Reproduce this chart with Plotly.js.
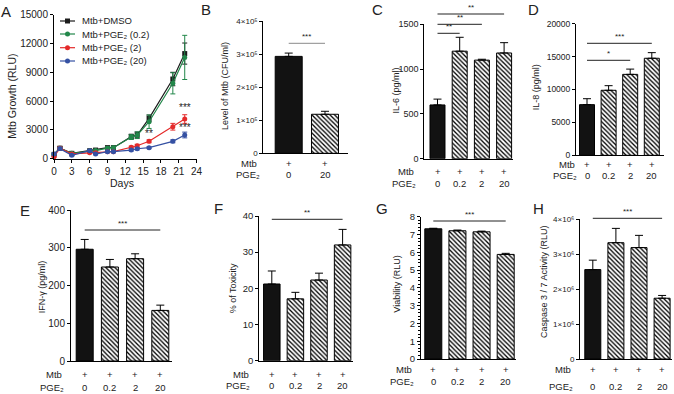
<!DOCTYPE html>
<html><head><meta charset="utf-8">
<script src="https://cdn.plot.ly/plotly-3.0.1.min.js"></script>
<style>html,body{margin:0;padding:0;background:#fff;}#chart{width:674px;height:394px;}</style>
</head><body><div id="chart"></div>
<script>
// ---------- Panel A data ----------
const days = [0,1,3,6,7,9,10,13,14,16,20,22];
const seriesNames = ['Mtb+DMSO','Mtb+PGE₂ (0.2)','Mtb+PGE₂ (2)','Mtb+PGE₂ (20)'];
const dmso     = [450,1100,560,830,900,1150,1150,2300,2470,4200,8300,10950];
const dmsoErr  = [100,150,100,100,100,150,150,250,300,350,700,1100];
const pge02    = [450,1100,560,800,850,1100,1150,2250,2450,3850,7850,10550];
const pge02Err = [100,150,100,100,100,150,150,250,350,700,1100,2300];
const pge2     = [210,1100,500,625,620,730,730,1190,1350,1810,3330,4130];
const pge2Err  = [80,120,80,80,80,80,80,120,150,150,350,450];
const pge20    = [490,1050,350,830,490,730,730,900,1040,1150,1810,2470];
const pge20Err = [80,120,80,80,80,80,80,100,120,100,150,300];
const daysTicks = [0,3,6,9,12,15,18,21,24];
const growthTicks = [0,3000,6000,9000,12000,15000];
const growthTickText = ['0','3000','6000','9000','12000','15000'];
const starsA = [[16,2650,'**'],[22,5300,'***'],[22,3300,'***']];

// ---------- Bar panel data ----------
const pgeB = ['0','20'];
const pgeDoses = ['0','0.2','2','20'];
const cfuB = [293000,118000];        const cfuBErr = [10000,9000];
const il6 = [600,1200,1100,1180];    const il6Err = [65,155,10,115];
const il8 = [7700,9880,12300,14750]; const il8Err = [900,700,800,850];
const ifng = [296,249,271,134];      const ifngErr = [26,20,13,14];
const toxicity = [21.2,17.1,22.3,32.0];  const toxicityErr = [3.6,1.8,1.9,4.3];
const viability = [7.32,7.21,7.15,5.88]; const viabilityErr = [0.03,0.04,0.04,0.06];
const caspase = [2560000,3330000,3190000,1740000]; const caspaseErr = [270000,410000,350000,80000];
const ticksB = [0,100000,200000,300000,400000];
const tickTextB = ['0','1×10⁵','2×10⁵','3×10⁵','4×10⁵'];
const ticksC = [0,500,1000,1500];
const ticksD = [0,5000,10000,15000,20000];
const tickTextD = ['0','5000','10000','15000','20000'];
const ticksE = [0,100,200,300,400];
const ticksF = [0,10,20,30,40];
const ticksG = [0,1,2,3,4,5,6,7,8];
const ticksH = [0,1000000,2000000,3000000,4000000];
const tickTextH = ['0','1×10⁶','2×10⁶','3×10⁶','4×10⁶'];

// ---------- helpers ----------
const W = 674, H = 394;
const fx = p => p / W, fy = p => 1 - p / H;
const FONT = 'Liberation Sans, Arial, sans-serif';
const data = [];
const layout = {
  width: W, height: H, margin: {l:0, r:0, t:0, b:0, pad:0},
  paper_bgcolor: '#fff', plot_bgcolor: 'rgba(0,0,0,0)', showlegend: false, barmode: 'overlay',
  font: {family: FONT, size: 9, color: '#222'},
  annotations: [], shapes: []
};
const ann = o => layout.annotations.push(Object.assign({showarrow:false, xanchor:'center', yanchor:'middle', borderpad:0}, o));
const axBase = extra => Object.assign({showline:true, linecolor:'#000', linewidth:1, ticks:'outside', ticklen:3, tickwidth:1,
  tickcolor:'#000', showgrid:false, zeroline:false, fixedrange:true}, extra);

// ---------- Panel A ----------
layout.xaxis = axBase({domain:[fx(54), fx(196.6)], range:[0,24], tickvals:daysTicks, anchor:'y', tickfont:{size:10}});
layout.yaxis = axBase({domain:[fy(158.7), fy(14.7)], range:[0,15000], tickvals:growthTicks, ticktext:growthTickText, anchor:'x', tickfont:{size:10}});
const seriesY = [dmso, pge02, pge2, pge20];
const seriesE = [dmsoErr, pge02Err, pge2Err, pge20Err];
const colors = ['#1c1c1c','#22874a','#e42a2a','#3551a3'];
const symbols = ['square','circle','circle','circle'];
seriesY.forEach((ys, i) => data.push({
  type:'scatter', mode:'lines+markers', x:days, y:ys, xaxis:'x', yaxis:'y', cliponaxis:false, name:seriesNames[i],
  line:{color:colors[i], width:1.2}, marker:{color:colors[i], size:5, symbol:symbols[i]},
  error_y:{type:'data', array:seriesE[i], visible:true, color:colors[i], thickness:1, width:2.5}, hoverinfo:'skip'
}));
// manual legend
const legRows = [21, 34, 47.7, 61];
seriesNames.forEach((nm, i) => {
  const r = legRows[i];
  layout.shapes.push({type:'line', xref:'paper', yref:'paper', x0:fx(60), x1:fx(75), y0:fy(r), y1:fy(r), line:{color:colors[i], width:1.2}});
  layout.shapes.push({type: i === 0 ? 'rect' : 'circle', xref:'paper', yref:'paper', x0:fx(65), x1:fx(70), y0:fy(r+2.5), y1:fy(r-2.5),
    fillcolor:colors[i], line:{color:colors[i], width:0}});
  ann({xref:'paper', yref:'paper', x:fx(81), y:fy(r), xanchor:'left', text:nm, font:{size:9.5}});
});
starsA.forEach(s => ann({xref:'x', yref:'y', x:s[0], y:s[1], text:s[2], font:{size:10}}));
ann({xref:'paper', yref:'paper', x:fx(12), y:fy(96.7), text:'Mtb Growth (RLU)', textangle:-90, font:{size:10.5}});
ann({xref:'paper', yref:'paper', x:fx(121.7), y:fy(183.3), text:'Days', font:{size:10.5}});
ann({xref:'paper', yref:'paper', x:fx(6), y:fy(11.7), text:'A', font:{size:15}});

// ---------- Bar panels ----------
const panels = [
  {id:2, letter:'B', vals:cfuB, errs:cfuBErr, pge:pgeB, title:'Level of Mtb (CFU/ml)',
   x0:263.3, x1:348.3, c1:288.7, s:36.3, w:27, ytop:21, ybot:153.3, ymax:400000, tickvals:ticksB, ticktext:tickTextB, tickSize:8,
   mtbY:163.5, pgeY:175, mtbR:258.3, pgeR:261, titleX:225, titleY:86, letterX:206, letterY:9, sig:[[0,1,43.3,'***','#8a8a8a']]},
  {id:3, letter:'C', vals:il6, errs:il6Err, pge:pgeDoses, title:'IL-6 (pg/ml)',
   x0:424.3, x1:513, c1:437.5, s:22.2, w:15, ytop:24.3, ybot:158.7, ymax:1500, tickvals:ticksC, tickSize:9,
   mtbY:171.7, pgeY:183.3, mtbR:415, pgeR:417, titleX:395.5, titleY:91, letterX:377, letterY:10,
   sig:[[0,3,14,'**','#222'],[0,2,24.3,'**','#222'],[0,1,33.3,'**','#222']]},
  {id:4, letter:'D', vals:il8, errs:il8Err, pge:pgeDoses, title:'IL-8 (pg/ml)',
   x0:576, x1:664, c1:587, s:21.6, w:15, ytop:23.7, ybot:155.3, ymax:20000, tickvals:ticksD, ticktext:tickTextD, tickSize:8.5,
   mtbY:164.3, pgeY:175.7, mtbR:576, pgeR:578, titleX:536.7, titleY:87.5, letterX:533, letterY:10,
   sig:[[0,3,43.3,'***','#222'],[0,2,60.3,'*','#222']]},
  {id:5, letter:'E', vals:ifng, errs:ifngErr, pge:pgeDoses, title:'IFN-γ (pg/ml)',
   x0:71, x1:172, c1:84.7, s:25.2, w:17, ytop:210, ybot:361, ymax:400, tickvals:ticksE, tickSize:10,
   mtbY:374, pgeY:387.7, mtbR:63.3, pgeR:65, titleX:41.7, titleY:286.5, letterX:25, letterY:210,
   sig:[[0,3,230,'***','#222']]},
  {id:6, letter:'F', vals:toxicity, errs:toxicityErr, pge:pgeDoses, title:'% of Toxicity',
   x0:259.3, x1:353, c1:271.8, s:23.6, w:16.5, ytop:216, ybot:360.7, ymax:40, tickvals:ticksF, tickSize:9.5,
   mtbY:374, pgeY:385.5, mtbR:250, pgeR:251, titleX:233.3, titleY:288, letterX:218.3, letterY:208.3,
   sig:[[0,3,219.3,'**','#222']]},
  {id:7, letter:'G', vals:viability, errs:viabilityErr, pge:pgeDoses, title:'Viability (RLU)',
   x0:421, x1:516, c1:433.3, s:24.13, w:17, ytop:216.7, ybot:359, ymax:8, tickvals:ticksG, tickSize:9.5,
   minor:{dtick:0.2, ticklen:2, ticks:'outside', tickcolor:'#000', tickwidth:1},
   mtbY:369.3, pgeY:381.7, mtbR:413.3, pgeR:415, titleX:396.7, titleY:284, letterX:381.7, letterY:208.3,
   sig:[[0,3,221,'***','#222']]},
  {id:8, letter:'H', vals:caspase, errs:caspaseErr, pge:pgeDoses, title:'Caspase 3 / 7 Activity (RLU)',
   x0:580, x1:672, c1:592.8, s:23.1, w:16, ytop:219.3, ybot:359, ymax:4000000, tickvals:ticksH, ticktext:tickTextH, tickSize:8,
   mtbY:369, pgeY:386.7, mtbR:571.7, pgeR:574, titleX:543.3, titleY:281.7, letterX:538.3, letterY:208.3,
   sig:[[0,3,218.3,'***','#222']]}
];

panels.forEach(p => {
  const xa = 'x' + p.id, ya = 'y' + p.id;
  const idx = p.vals.map((v, i) => i);
  layout['xaxis' + p.id] = {domain:[fx(p.x0), fx(p.x1)], range:[(p.x0 - p.c1) / p.s, (p.x1 - p.c1) / p.s], anchor:ya,
    showline:true, linecolor:'#000', linewidth:1, ticks:'', showticklabels:false, showgrid:false, zeroline:false, fixedrange:true};
  const yax = axBase({domain:[fy(p.ybot), fy(p.ytop)], range:[0, p.ymax], tickvals:p.tickvals, anchor:xa, tickfont:{size:p.tickSize}});
  if (p.ticktext) yax.ticktext = p.ticktext;
  if (p.minor) yax.minor = p.minor;
  layout['yaxis' + p.id] = yax;
  const errBar = arr => ({type:'data', symmetric:false, array:arr, arrayminus:arr.map(() => 0), color:'#000', thickness:1, width:4, visible:true});
  // control (solid black) bar
  data.push({
    type:'bar', x:idx.slice(0,1), y:p.vals.slice(0,1), xaxis:xa, yaxis:ya, width:p.w / p.s, hoverinfo:'skip',
    marker:{color:'#121212', line:{color:'#000', width:1}},
    error_y:errBar(p.errs.slice(0,1))
  });
  // PGE2-treated (hatched) bars
  data.push({
    type:'bar', x:idx.slice(1), y:p.vals.slice(1), xaxis:xa, yaxis:ya, width:p.w / p.s, hoverinfo:'skip',
    marker:{color:'#ffffff', line:{color:'#000', width:1},
      pattern:{shape:'\\', fgcolor:'#000', bgcolor:'#ffffff', fillmode:'replace', size:3.2, solidity:0.4}},
    error_y:errBar(p.errs.slice(1))
  });
  idx.forEach(i => {
    ann({xref:xa, yref:'paper', x:i, y:fy(p.mtbY), text:'+', font:{size:9.5}});
    ann({xref:xa, yref:'paper', x:i, y:fy(p.pgeY), text:p.pge[i], font:{size:9.5}});
  });
  ann({xref:'paper', yref:'paper', x:fx(p.mtbR), y:fy(p.mtbY), xanchor:'right', text:'Mtb', font:{size:9.5}});
  ann({xref:'paper', yref:'paper', x:fx(p.pgeR), y:fy(p.pgeY), xanchor:'right', text:'PGE₂', font:{size:9.5}});
  ann({xref:'paper', yref:'paper', x:fx(p.titleX), y:fy(p.titleY), text:p.title, textangle:-90, font:{size:9}});
  ann({xref:'paper', yref:'paper', x:fx(p.letterX), y:fy(p.letterY), text:p.letter, font:{size:15}});
  p.sig.forEach(g => {
    layout.shapes.push({type:'line', xref:xa, yref:'paper', x0:g[0], x1:g[1], y0:fy(g[2]), y1:fy(g[2]), line:{color:g[4], width:1}});
    ann({xref:xa, yref:'paper', x:(g[0] + g[1]) / 2, y:fy(g[2] - 1.5), yanchor:'bottom', text:g[3], font:{size:8}});
  });
});

Plotly.newPlot('chart', data, layout, {displayModeBar:false});
</script>
</body></html>
